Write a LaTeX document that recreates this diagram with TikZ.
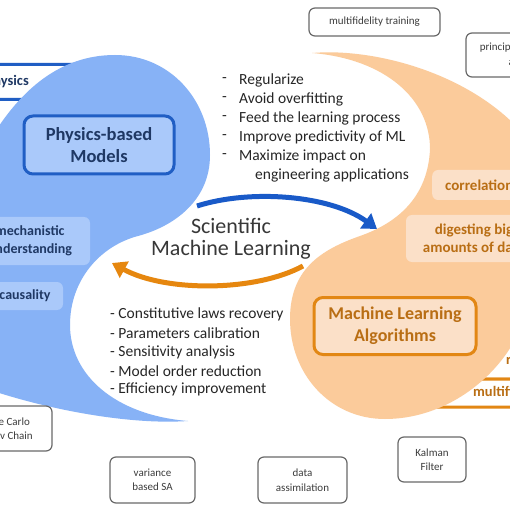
\documentclass[tikz,border=0pt]{standalone}
\usepackage{fontspec}
\setmainfont{Carlito}
\usepackage{xcolor}
\usetikzlibrary{arrows.meta, positioning, calc, shapes}
\definecolor{blueblob}{RGB}{135,178,246}
\definecolor{bluefill}{RGB}{170,201,250}
\definecolor{blueline}{RGB}{32,94,196}
\definecolor{navy}{RGB}{31,56,100}
\definecolor{orangeblob}{RGB}{251,203,155}
\definecolor{orangefill}{RGB}{251,224,200}
\definecolor{orangeline}{RGB}{226,135,20}
\definecolor{orangetext}{RGB}{185,110,20}
\definecolor{arrowblue}{RGB}{25,90,200}
\definecolor{arroworange}{RGB}{230,135,15}
\definecolor{boxgrey}{RGB}{105,105,105}
\definecolor{textgrey}{RGB}{60,60,60}

\begin{document}
\begin{tikzpicture}[x=1pt, y=-1pt,
  greybox/.style={draw=boxgrey, line width=1.2pt, rounded corners=6pt, fill=white,
    text=textgrey, align=center, font=\fontsize{11}{14.5}\selectfont, inner sep=0pt},
  bluebox/.style={fill=bluefill, rounded corners=6pt, text=navy, align=center,
    font=\bfseries\fontsize{14}{18}\selectfont, inner sep=0pt},
  orangebox/.style={fill=orangefill, rounded corners=6pt, text=orangetext, align=center,
    font=\bfseries\fontsize{15}{18}\selectfont, inner sep=0pt},
  edgebox/.style={fill=white, rounded corners=4pt, line width=3pt, inner sep=0pt},
  listtext/.style={anchor=west, inner sep=0pt, text=black!85, font=\fontsize{15.5}{15}\selectfont},
  thickarrow/.style={line width=5pt, -{Triangle[length=14pt,width=18pt]}}]
  \useasboundingbox (0,0) rectangle (510,510);
  \clip (0,0) rectangle (510,510);
  \fill[white] (0,0) rectangle (510,510);

  % boxes lying behind the two blobs
  \node[edgebox, draw=blueline, minimum width=160pt, minimum height=35pt] (physics) at (10,82) {};
  \node[anchor=east, inner sep=0pt, text=navy, font=\bfseries\fontsize{14.5}{15}\selectfont] (physicslbl) at (29,82) {Physics};
  \node[edgebox, draw=orangeline, minimum width=170pt, minimum height=44pt] (reduced) at (515,357) {};
  \node[edgebox, draw=orangeline, minimum width=190pt, minimum height=28pt] (multifid) at (515,393) {};
  \node[anchor=west, inner sep=0pt, text=orangetext, font=\bfseries\fontsize{14.5}{15}\selectfont] (reducedlbl) at (506,359) {reduced order};
  \node[anchor=west, inner sep=0pt, text=orangetext, font=\bfseries\fontsize{14.5}{15}\selectfont] (multifidlbl) at (473,393) {multifidelity};

  % the two blobs
  \fill[blueblob] (-10,140) .. controls (20,90) and (60,55) .. (115,55)
    .. controls (170,55) and (210,100) .. (210,155)
    .. controls (210,200) and (175,226) .. (138,236)
    .. controls (100,246) and (70,280) .. (70,325)
    .. controls (70,375) and (115,415) .. (188,421)
    .. controls (130,425) and (50,410) .. (-10,390) -- cycle;
  \fill[orangeblob] (515,340) .. controls (490,385) and (440,419) .. (385,419)
    .. controls (330,419) and (290,374) .. (290,319)
    .. controls (290,270) and (320,250) .. (360,236)
    .. controls (400,222) and (428,195) .. (430,149)
    .. controls (430,99) and (385,59) .. (312,53)
    .. controls (370,48) and (460,70) .. (515,125) -- cycle;

  % boxes on the blobs
  \node[bluebox, draw=blueline, line width=3pt, rounded corners=9pt, minimum width=150pt, minimum height=58pt,
    font=\bfseries\fontsize{18.5}{22}\selectfont] (physbox) at (99,145) {Physics-based\\Models};
  \node[bluebox, minimum width=120pt, minimum height=48pt] (mech) at (30,241) {mechanistic\\understanding};
  \node[bluebox, minimum width=76pt, minimum height=28pt] (caus) at (25,296) {causality};
  \node[orangebox, draw=orangeline, line width=3pt, rounded corners=9pt, minimum width=162pt, minimum height=57pt,
    font=\bfseries\fontsize{18}{22}\selectfont] (mlbox) at (395,326) {Machine Learning\\Algorithms};
  \node[orangebox, anchor=west, minimum height=30pt, text width=120pt, align=left, inner xsep=13pt] (corr) at (432,185) {correlation};
  \node[orangebox, minimum width=136pt, minimum height=47pt] (bigdata) at (474,238.5) {digesting big\\amounts of data};

  % grey boxes
  \node[greybox, minimum width=131pt, minimum height=28pt] (mft) at (374.5,22) {multifidelity training};
  \node[greybox, minimum width=120pt, minimum height=44pt] (pca) at (526,55) {principal component\\analysis};
  \node[greybox, minimum width=100pt, minimum height=45pt] (mcmc) at (2,428.5) {Monte Carlo\\Markov Chain};
  \node[greybox, minimum width=85pt, minimum height=46pt] (vsa) at (152.5,480) {variance\\based SA};
  \node[greybox, minimum width=89pt, minimum height=46pt] (da) at (302.5,480) {data\\assimilation};
  \node[greybox, minimum width=68pt, minimum height=45pt] (kf) at (432,459.5) {Kalman\\Filter};

  % centre
  \node[align=center, inner sep=0pt, text=black!78, font=\fontsize{22}{21.5}\selectfont] (title) at (231,239) {Scientific\\Machine Learning};
  \foreach \t [count=\i] in {Regularize, Avoid overfitting, Feed the learning process,
      Improve predictivity of ML, Maximize impact on} {
    \node[listtext] (dash\i) at (222,61+19*\i) {-};
    \node[listtext] (up\i) at (239,61+19*\i) {\t};
  }
  \node[listtext] (up6) at (255,175) {engineering applications};
  \foreach \t [count=\i] in {Constitutive laws recovery, Parameters calibration, Sensitivity analysis,
      Model order reduction, Efficiency improvement} {
    \node[listtext] (low\i) at (110,296+18.7*\i) {- \t};
  }

  % arrows
  \coordinate (bstart) at (197,206);
  \coordinate (bend) at (377,229);
  \coordinate (ostart) at (303,266);
  \coordinate (oend) at (112,263);
  \draw[thickarrow, arrowblue] (bstart) .. controls (250,189) and (330,195) .. (bend);
  \draw[thickarrow, arroworange] (ostart) .. controls (255,292) and (165,292) .. (oend);
\end{tikzpicture}
\end{document}
